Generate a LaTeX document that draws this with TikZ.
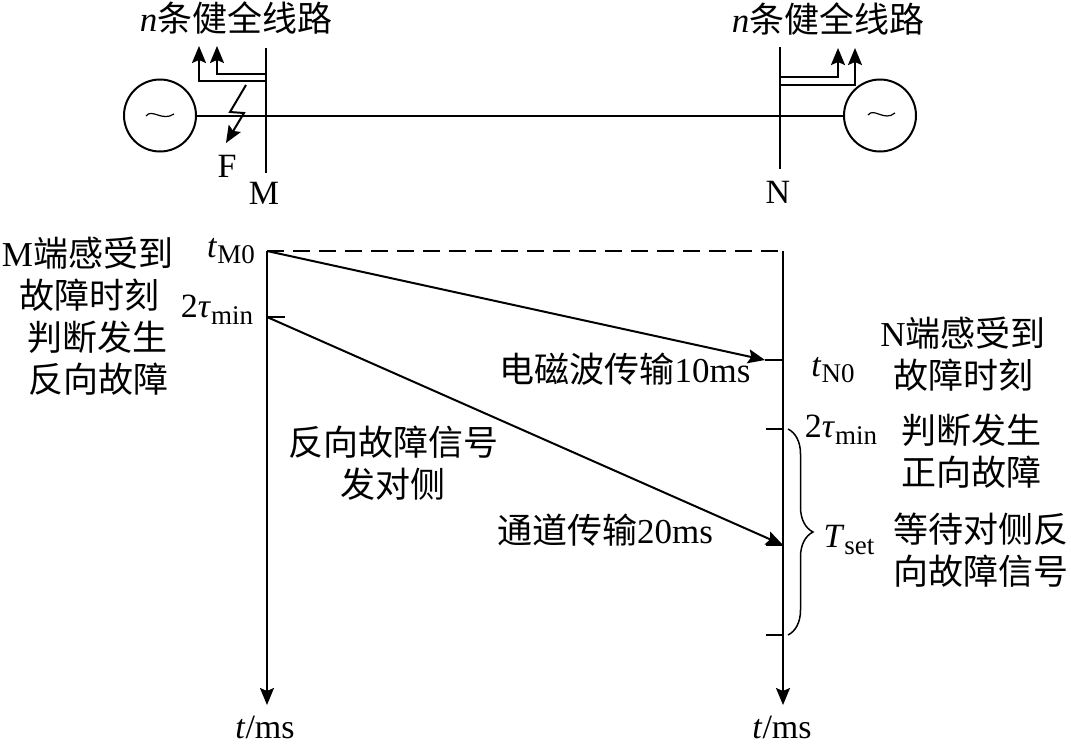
\documentclass[tikz,border=0pt]{standalone}
\usepackage{fontspec}
\setmainfont{Liberation Serif}
\newfontfamily\cjk{Noto Sans CJK SC}
\usetikzlibrary{arrows.meta,decorations.pathreplacing}
\newcommand{\zh}[1]{{\cjk #1}}
\newcommand{\subsc}[1]{\raisebox{-0.2em}{\fontsize{27}{29}\selectfont #1}}
\tikzset{
  ln/.style={line width=2pt,black},
  arr/.style={ln,-{Stealth[length=17pt,width=14pt,inset=3pt]}},
  gen/.style={circle,draw,line width=2pt,minimum size=72pt,inner sep=0pt},
  lbl/.style={inner sep=0pt,align=center,font=\fontsize{35}{42}\selectfont},
  lat/.style={inner sep=0pt,font=\fontsize{34}{38}\selectfont},
}
\begin{document}
\begin{tikzpicture}[x=1pt,y=-1pt]
\useasboundingbox (0,0) rectangle (1071,750);
% top one-line diagram
\node[gen] (g1) at (160,115.5) {};
\node[gen] (g2) at (880,115.5) {};
\draw[line width=1.2pt] (146,116) .. controls (152,108) and (162,122) .. (174,114);
\draw[line width=1.2pt] (868,115) .. controls (874,107) and (884,122) .. (895,113);
\coordinate (Mt) at (266,48); \coordinate (Mb) at (266,173);
\coordinate (Nt) at (780,47); \coordinate (Nb) at (780,169);
\draw[ln] (Mt) -- (Mb);
\draw[ln] (Nt) -- (Nb);
\draw[ln] (g1.east) -- (g2.west);
\coordinate (Ma1) at (266,74); \coordinate (Ma2) at (217,46);
\coordinate (Mc1) at (266,81); \coordinate (Mc2) at (199,46);
\coordinate (Na1) at (780,77); \coordinate (Na2) at (838,48);
\coordinate (Nc1) at (780,85); \coordinate (Nc2) at (855,48);
\draw[arr] (Ma1) -| (Ma2);
\draw[arr] (Mc1) -| (Mc2);
\draw[arr] (Na1) -| (Na2);
\draw[arr] (Nc1) -| (Nc2);
% fault bolt
\coordinate (f1) at (246,85); \coordinate (f2) at (230,112);
\coordinate (f3) at (244,113); \coordinate (f4) at (226,143);
\draw[arr] (f1) -- (f2) -- (f3) -- (f4);
% top labels
\node[lbl] (tl) at (236,18) {\textit{n}\zh{条健全线路}};
\node[lbl] (tr) at (828,19) {\textit{n}\zh{条健全线路}};
\node[lat] (F) at (227,166) {F};
\node[lat] (M) at (264,193) {M};
\node[lat] (N) at (778,192) {N};
% time lines
\coordinate (L0) at (267,251); \coordinate (Lend) at (267,705);
\coordinate (R0) at (783,251); \coordinate (Rend) at (783,705);
\draw[arr] (L0) -- (Lend);
\draw[arr] (R0) -- (Rend);
\draw[ln,dash pattern=on 17pt off 9pt] (L0) -- (R0);
\coordinate (Lt) at (267,317); \coordinate (Lt0) at (285,317);
\draw[ln] (Lt) -- (Lt0);
\coordinate (Rt1) at (783,360); \coordinate (Rt1a) at (765,360);
\coordinate (Rt2) at (783,429); \coordinate (Rt2a) at (766,429);
\coordinate (Rt3) at (783,635); \coordinate (Rt3a) at (766,635);
\coordinate (Rt4) at (783,545); \coordinate (Rt4a) at (766,545);
\draw[ln] (Rt1) -- (Rt1a);
\draw[ln] (Rt2) -- (Rt2a);
\draw[ln] (Rt3) -- (Rt3a);
\draw[ln] (Rt4) -- (Rt4a);
\draw[arr] (L0) -- (Rt1a);
\draw[arr] (Lt) -- (Rt4);
% brace
\coordinate (b1) at (788,429); \coordinate (b2) at (788,635);
\draw[line width=1.5pt,decorate,decoration={brace,amplitude=25pt,aspect=0.5}] (b1) -- (b2);
% time labels
\node[lat] (tM) at (231,251) {\textit{t}\subsc{M0}};
\node[lat] (tauL) at (217,310) {2\textit{τ}\subsc{min}};
\node[lat] (tN) at (833,370) {\textit{t}\subsc{N0}};
\node[lat] (tauR) at (841,430) {2\textit{τ}\subsc{min}};
\node[lat] (Ts) at (849,540) {\textit{T}\subsc{set}};
\node[lat] (t1) at (265,727) {\textit{t}/ms};
\node[lat] (t2) at (782,727) {\textit{t}/ms};
% chinese labels
\node[lbl] (a) at (87.5,316) {M\zh{端感受到}\\\hspace*{4pt}\zh{故障时刻}\\\hspace*{20pt}\zh{判断发生}\\\hspace*{23pt}\zh{反向故障}};
\node[lbl] (b) at (963,354) {N\zh{端感受到}\\\zh{故障时刻}};
\node[lbl] (c) at (971,451) {\zh{判断发生}\\\zh{正向故障}};
\node[lbl] (d) at (981,550) {\zh{等待对侧反}\\\zh{向故障信号}};
\node[lbl] (e) at (625,369) {\zh{电磁波传输}10ms};
\node[lbl] (f) at (393,463) {\zh{反向故障信号}\\\zh{发对侧}};
\node[lbl] (g) at (605,530) {\zh{通道传输}20ms};
\end{tikzpicture}
\end{document}
